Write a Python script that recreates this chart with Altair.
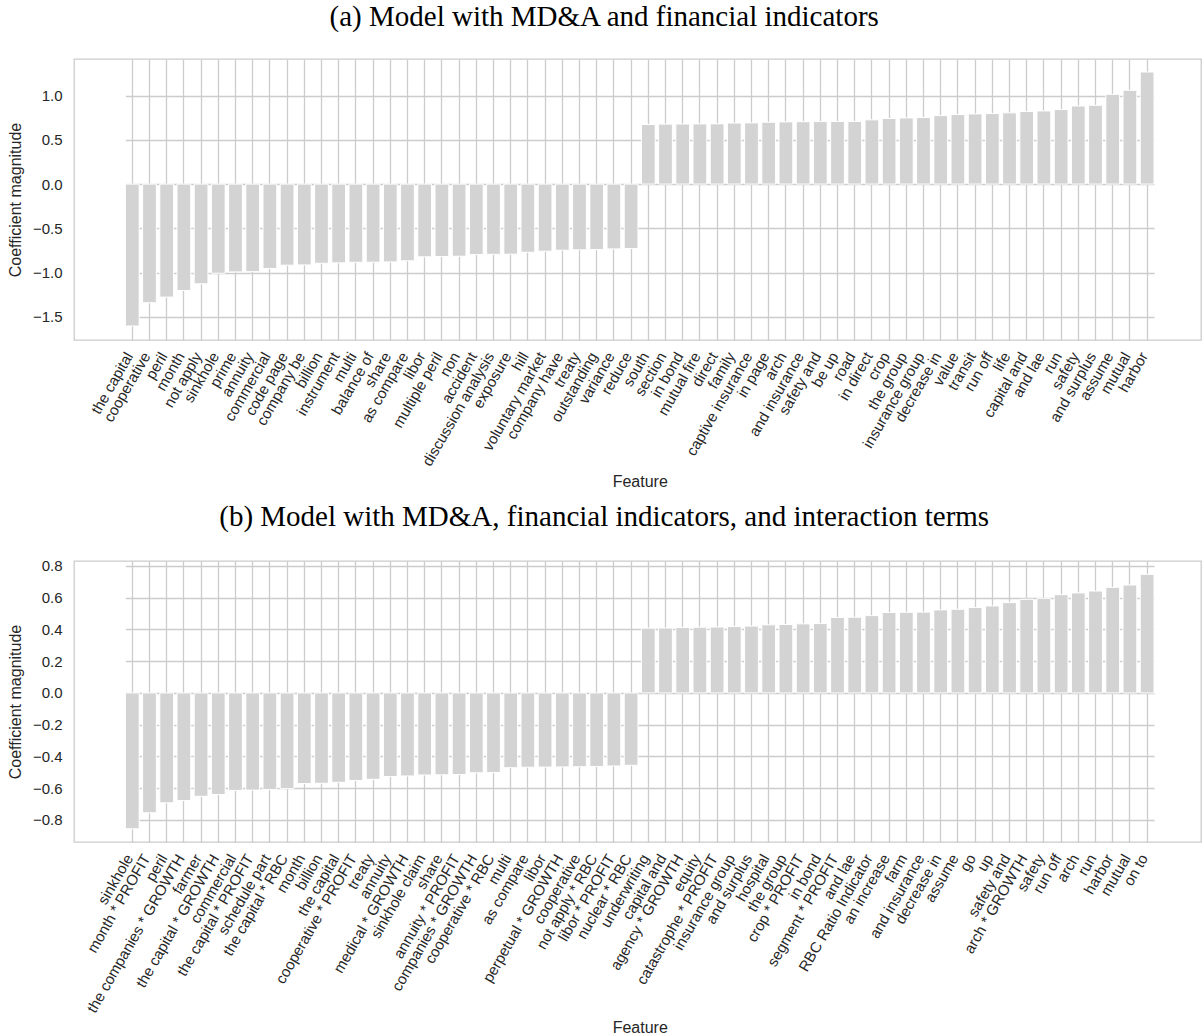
import altair as alt
import pandas as pd

# Panel (a): MD&A terms plus financial indicators
features_a = [
    "the capital", "cooperative", "peril", "month", "not apply", "sinkhole",
    "prime", "annuity", "commercial", "code page", "company be", "billion",
    "instrument", "multi", "balance of", "share", "as compare", "libor",
    "multiple peril", "non", "accident", "discussion analysis", "exposure",
    "hill", "voluntary market", "company have", "treaty", "outstanding",
    "variance", "reduce",
    "south", "section", "in bond", "mutual fire", "direct", "family",
    "captive insurance", "in page", "arch", "and insurance", "safety and",
    "be up", "road", "in direct", "crop", "the group", "insurance group",
    "decrease in", "value", "transit", "run off", "life", "capital and",
    "and lae", "run", "safety", "and surplus", "assume", "mutual", "harbor",
]
coef_a = [
    -1.605, -1.342, -1.278, -1.203, -1.128, -1.008, -0.993, -0.990, -0.955,
    -0.917, -0.914, -0.895, -0.891, -0.884, -0.883, -0.880, -0.868, -0.823,
    -0.820, -0.816, -0.797, -0.794, -0.793, -0.771, -0.759, -0.748, -0.744,
    -0.741, -0.733, -0.729,
    0.673, 0.678, 0.679, 0.680, 0.681, 0.690, 0.692, 0.699, 0.703, 0.705,
    0.706, 0.707, 0.708, 0.726, 0.741, 0.748, 0.752, 0.774, 0.786, 0.793,
    0.797, 0.805, 0.820, 0.827, 0.842, 0.883, 0.891, 1.015, 1.060, 1.267,
]

# Panel (b): adds interaction terms
features_b = [
    "sinkhole", "month * PROFIT", "peril", "the companies * GROWTH", "farmer",
    "the capital * GROWTH", "commercial", "the capital * PROFIT",
    "schedule part", "the capital * RBC", "month", "billion", "the capital",
    "cooperative * PROFIT", "treaty", "annuity", "medical * GROWTH",
    "sinkhole claim", "share", "annuity * PROFIT", "companies * GROWTH",
    "cooperative * RBC", "multi", "as compare", "libor", "perpetual * GROWTH",
    "cooperative", "not apply * RBC", "libor * PROFIT", "nuclear * RBC",
    "underwriting", "capital and", "agency * GROWTH", "equity",
    "catastrophe * PROFIT", "insurance group", "and surplus", "hospital",
    "the group", "crop * PROFIT", "in bond", "segment * PROFIT", "and lae",
    "RBC Ratio Indicator", "an increase", "farm", "and insurance",
    "decrease in", "assume", "go", "up", "safety and", "arch * GROWTH",
    "safety", "run off", "arch", "run", "harbor", "mutual", "on to",
]
coef_b = [
    -0.856, -0.755, -0.692, -0.678, -0.651, -0.640, -0.614, -0.612, -0.609,
    -0.603, -0.571, -0.569, -0.563, -0.552, -0.544, -0.527, -0.523, -0.517,
    -0.516, -0.514, -0.503, -0.501, -0.471, -0.468, -0.467, -0.466, -0.465,
    -0.463, -0.460, -0.456,
    0.408, 0.409, 0.412, 0.414, 0.415, 0.418, 0.421, 0.429, 0.431, 0.435,
    0.437, 0.475, 0.477, 0.487, 0.507, 0.508, 0.509, 0.523, 0.527, 0.538,
    0.548, 0.569, 0.590, 0.596, 0.619, 0.630, 0.642, 0.665, 0.680, 0.747,
]

title_a = "(a) Model with MD&A and financial indicators"
title_b = "(b) Model with MD&A, financial indicators, and interaction terms"

ticks_a = [-1.5, -1.0, -0.5, 0.0, 0.5, 1.0]
ticks_b = [-0.8, -0.6, -0.4, -0.2, 0.0, 0.2, 0.4, 0.6, 0.8]

TEXT = "#262626"
GRID = "#cccccc"

PLOT_W = 1127
PLOT_H = 281
# bars occupy a sub-range of the plot width, leaving wide side margins
BAND_RANGE = [51.4, 1080.0]


def panel(features, coefs, title, domain, ticks):
    df = pd.DataFrame({"Feature": features, "coef": coefs})
    return (
        alt.Chart(
            df,
            title=alt.TitleParams(
                title,
                font="Liberation Serif",
                fontSize=29,
                fontWeight="normal",
                color="black",
                anchor="middle",
                frame="bounds",
                offset=27,
            ),
        )
        .mark_bar(color="#d3d3d3", stroke="white", strokeWidth=1)
        .encode(
            x=alt.X(
                "Feature:N",
                sort=features,
                scale=alt.Scale(paddingInner=0.2, paddingOuter=0, range=BAND_RANGE),
                axis=alt.Axis(
                    title="Feature",
                    labelAngle=-60,
                    labelAlign="right",
                    labelBaseline="middle",
                    labelPadding=13,
                    labelOffset=-3,
                    labelLimit=400,
                    titlePadding=5,
                    grid=True,
                    ticks=False,
                    domain=False,
                    labelOverlap=False,
                ),
            ),
            y=alt.Y(
                "coef:Q",
                scale=alt.Scale(domain=domain, nice=False, zero=False),
                axis=alt.Axis(
                    title="Coefficient magnitude",
                    values=ticks,
                    format=".1f",
                    grid=True,
                    ticks=False,
                    domain=False,
                    labelPadding=12,
                    titlePadding=9,
                ),
            ),
        )
        .properties(width=PLOT_W, height=PLOT_H)
    )


top = panel(features_a, coef_a, title_a, [-1.763, 1.414], ticks_a)
bottom = panel(features_b, coef_b, title_b, [-0.939, 0.831], ticks_b)

chart = (
    alt.vconcat(top, bottom, spacing=12)
    .properties(padding={"left": 6, "top": 2, "right": 0, "bottom": 0})
    .configure_view(stroke=GRID, strokeWidth=1.3)
    .configure_axis(
        gridColor=GRID,
        gridWidth=1.3,
        labelFont="Liberation Sans",
        labelFontSize=15,
        labelColor=TEXT,
        titleFont="Liberation Sans",
        titleFontSize=16,
        titleFontWeight="normal",
        titleColor=TEXT,
    )
)

chart.save("out.html", embed_options={"renderer": "svg", "actions": False})
